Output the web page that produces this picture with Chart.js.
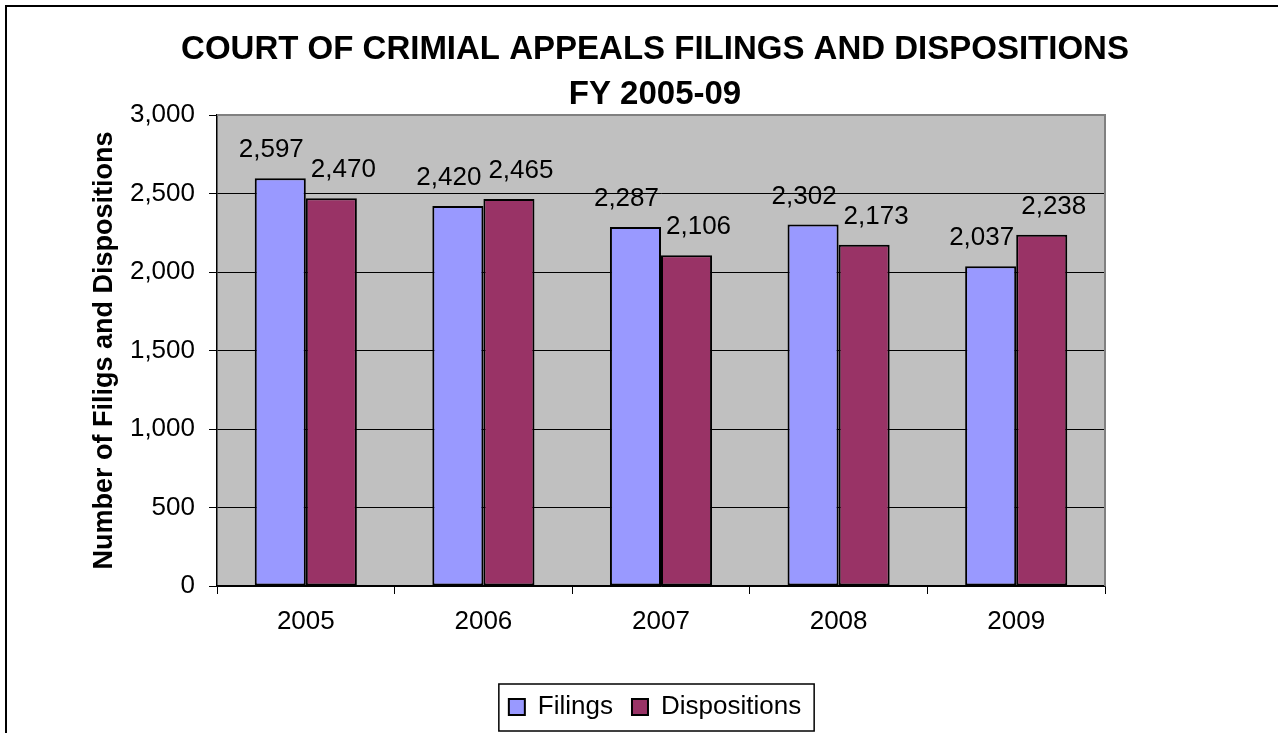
<!DOCTYPE html>
<html>
<head>
<meta charset="utf-8">
<script src="https://cdn.jsdelivr.net/npm/chart.js@4.4.1/dist/chart.umd.min.js"></script>
<style>
  html, body { margin: 0; padding: 0; background: #fff; }
  #wrap { width: 1278px; height: 733px; }
</style>
</head>
<body>
<div id="wrap"><canvas id="courtChart" width="1278" height="733"></canvas></div>
<script>
const categories = ['2005', '2006', '2007', '2008', '2009'];
const filings = [2597, 2420, 2287, 2302, 2037];
const dispositions = [2470, 2465, 2106, 2173, 2238];
const yMin = 0;
const yMax = 3000;
const yStep = 500;

const FONT = "'Liberation Sans', Arial, Helvetica, sans-serif";

// plot background, outer frame, value labels, legend box
const excelLook = {
  id: 'excelLook',
  beforeDraw(chart) {
    const { ctx, chartArea: a } = chart;
    ctx.save();
    ctx.fillStyle = '#fff';
    ctx.fillRect(0, 0, chart.width, chart.height);
    ctx.strokeStyle = '#000';
    ctx.lineWidth = 2;
    ctx.beginPath();
    ctx.moveTo(6, chart.height);
    ctx.lineTo(6, 6);
    ctx.lineTo(chart.width, 6);
    ctx.stroke();
    ctx.fillStyle = '#C0C0C0';
    ctx.fillRect(a.left, a.top, a.right - a.left, a.bottom - a.top);
    ctx.restore();
  },
  beforeDatasetsDraw(chart) {
    const { ctx, chartArea: a } = chart;
    ctx.save();
    ctx.strokeStyle = '#808080';
    ctx.lineWidth = 2;
    ctx.beginPath();
    ctx.moveTo(a.left, a.top);
    ctx.lineTo(a.right, a.top);
    ctx.lineTo(a.right, a.bottom);
    ctx.stroke();
    ctx.restore();
  },
  afterDatasetsDraw(chart) {
    const { ctx } = chart;
    const nudge = [-9, 12];
    ctx.save();
    ctx.font = '26px ' + FONT;
    ctx.fillStyle = '#000';
    ctx.textAlign = 'center';
    ctx.textBaseline = 'alphabetic';
    chart.data.datasets.forEach((ds, di) => {
      chart.getDatasetMeta(di).data.forEach((bar, i) => {
        ctx.fillText(ds.data[i].toLocaleString('en-US'), bar.x + nudge[di], bar.y - 21);
      });
    });
    ctx.restore();
  },
  afterDraw(chart) {
    const hb = chart.legend.legendHitBoxes;
    if (!hb || !hb.length) return;
    const { ctx } = chart;
    const last = hb[hb.length - 1];
    const left = hb[0].left - 10;
    const right = last.left + last.width + 13;
    const cy = hb[0].top + hb[0].height / 2;
    ctx.save();
    ctx.strokeStyle = '#000';
    ctx.lineWidth = 1.5;
    ctx.strokeRect(left, cy - 23, right - left, 47);
    ctx.restore();
  }
};

const ctx = document.getElementById('courtChart').getContext('2d');

const courtChart = new Chart(ctx, {
  type: 'bar',
  data: {
    labels: categories,
    datasets: [
      {
        label: 'Filings',
        data: filings,
        backgroundColor: '#9999FF',
        borderColor: '#000',
        borderWidth: 2,
        borderSkipped: false,
        barPercentage: 1,
        categoryPercentage: 0.575
      },
      {
        label: 'Dispositions',
        data: dispositions,
        backgroundColor: '#993366',
        borderColor: '#000',
        borderWidth: 2,
        borderSkipped: false,
        barPercentage: 1,
        categoryPercentage: 0.575
      }
    ]
  },
  options: {
    responsive: false,
    animation: false,
    layout: { padding: { left: 32, right: 0, top: 0, bottom: 3 } },
    scales: {
      x: {
        grid: { offset: true, drawOnChartArea: false, drawTicks: true, tickLength: 8, color: '#000', lineWidth: 1 },
        border: { color: '#000', width: 1.5 },
        ticks: { color: '#000', font: { family: FONT, size: 26 }, padding: 12 },
        afterFit(scale) { scale.height = 89; }
      },
      y: {
        min: yMin,
        max: yMax,
        ticks: {
          stepSize: yStep,
          color: '#000',
          font: { family: FONT, size: 26 },
          padding: 14,
          callback: (v) => v.toLocaleString('en-US')
        },
        grid: { color: '#000', lineWidth: 1, tickLength: 8 },
        border: { color: '#000', width: 1.5 },
        title: {
          display: true,
          text: 'Number of Filigs and Dispositions',
          color: '#000',
          font: { family: FONT, size: 27, weight: 'bold' },
          padding: { top: 56, bottom: 0 }
        },
        afterFit(scale) { scale.width = 185; }
      },
      y2: {
        position: 'right',
        display: true,
        grid: { display: false },
        border: { display: false },
        ticks: { display: false },
        afterFit(scale) { scale.width = 173; }
      }
    },
    plugins: {
      title: {
        display: true,
        text: ['COURT OF CRIMIAL APPEALS FILINGS AND DISPOSITIONS', 'FY 2005-09'],
        color: '#000',
        font: { family: FONT, size: 33, weight: 'bold', lineHeight: 1.364 },
        padding: { top: 27, bottom: -2 }
      },
      legend: {
        position: 'bottom',
        labels: {
          color: '#000',
          font: { family: FONT, size: 26 },
          boxWidth: 16,
          boxHeight: 16,
          padding: 19
        }
      },
      tooltip: { enabled: false }
    }
  },
  plugins: [excelLook]
});
</script>
</body>
</html>
